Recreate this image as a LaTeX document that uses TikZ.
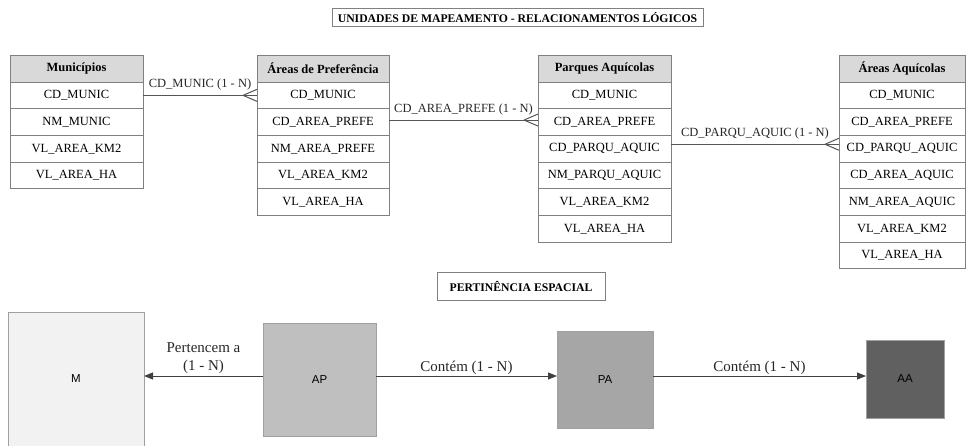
\documentclass[tikz,border=0pt]{standalone}
\usepackage{fontspec}
\setmainfont{Liberation Serif}
\newfontfamily\boxsans{Liberation Sans}
\usetikzlibrary{arrows.meta,calc}
\definecolor{tblline}{HTML}{808080}
\definecolor{hdrfill}{HTML}{D9D9D9}
\definecolor{connline}{HTML}{555555}
\definecolor{arrline}{HTML}{404040}
\definecolor{mfill}{HTML}{F2F2F2}
\definecolor{apfill}{HTML}{BFBFBF}
\definecolor{pafill}{HTML}{A6A6A6}
\definecolor{aafill}{HTML}{606060}
\definecolor{boxline}{HTML}{A0A0A0}
\newcommand\crowfoot[1]{\draw[conn] ($(#1)+(-14,0)$) -- ($(#1)+(0,-6)$) ($(#1)+(-14,0)$) -- ($(#1)+(0,6)$);}
\begin{document}
\begin{tikzpicture}[x=1pt,y=-1pt,
  cell/.style={draw=tblline, line width=1pt, fill=white, anchor=north west, inner sep=0pt, outer sep=0pt,
    minimum height=26.7pt, font=\fontsize{12.5}{14}\selectfont},
  hdr/.style={cell, fill=hdrfill, minimum height=27.3pt, font=\fontsize{12.5}{14}\selectfont\bfseries},
  titlebox/.style={draw=tblline, line width=1pt, inner sep=0pt, outer sep=0pt, font=\fontsize{11.7}{13}\selectfont\bfseries},
  conn/.style={draw=connline, line width=1pt},
  lbl/.style={anchor=base, yshift=8pt, inner sep=0pt, text=black!85, font=\fontsize{12.5}{14}\selectfont},
  bbox/.style={draw=boxline, line width=1pt, inner sep=0pt, outer sep=0pt, anchor=north west, font=\boxsans\fontsize{11.5}{13}\selectfont},
  arr/.style={draw=arrline, line width=1pt, -{Triangle[length=9pt,width=7pt]}},
  blbl/.style={anchor=base, yshift=5pt, inner sep=0pt, text=black!85, font=\fontsize{15}{18.5}\selectfont}
]
\useasboundingbox (0,0) rectangle (966,445);
\clip (0,0) rectangle (966,445);

% titles
\node[titlebox, minimum width=371pt, minimum height=17.5pt] (t1) at (517.5,17.5) {UNIDADES DE MAPEAMENTO - RELACIONAMENTOS LÓGICOS};
\node[titlebox, minimum width=168pt, minimum height=28pt] (t2) at (521,286) {PERTINÊNCIA ESPACIAL};

% Municipios
\node[hdr, minimum width=133pt] (m0) at (10,55) {Municípios};
\foreach \t [count=\i] in {CD\_MUNIC, NM\_MUNIC, VL\_AREA\_KM2, VL\_AREA\_HA}
  \node[cell, minimum width=133pt] (m\i) at (10,{82+(\i-1)*26.7}) {\t};

% Areas de Preferencia
\node[hdr, minimum width=132pt] (ap0) at (257,55) {Áreas de Preferência};
\foreach \t [count=\i] in {CD\_MUNIC, CD\_AREA\_PREFE, NM\_AREA\_PREFE, VL\_AREA\_KM2, VL\_AREA\_HA}
  \node[cell, minimum width=132pt] (ap\i) at (257,{82+(\i-1)*26.7}) {\t};

% Parques Aquicolas
\node[hdr, minimum width=133pt] (pa0) at (538,55) {Parques Aquícolas};
\foreach \t [count=\i] in {CD\_MUNIC, CD\_AREA\_PREFE, CD\_PARQU\_AQUIC, NM\_PARQU\_AQUIC, VL\_AREA\_KM2, VL\_AREA\_HA}
  \node[cell, minimum width=133pt] (pa\i) at (538,{82+(\i-1)*26.7}) {\t};

% Areas Aquicolas
\node[hdr, minimum width=126pt] (aa0) at (839,55) {Áreas Aquícolas};
\foreach \t [count=\i] in {CD\_MUNIC, CD\_AREA\_PREFE, CD\_PARQU\_AQUIC, CD\_AREA\_AQUIC, NM\_AREA\_AQUIC, VL\_AREA\_KM2, VL\_AREA\_HA}
  \node[cell, minimum width=126pt] (aa\i) at (839,{82+(\i-1)*26.7}) {\t};

% relationships
\draw[conn] (m1.east) -- node[lbl] {CD\_MUNIC (1 - N)} (ap1.west);
\crowfoot{ap1.west}
\coordinate (c2a) at ([yshift=2pt]ap2.east);
\coordinate (c2b) at (c2a -| pa2.west);
\draw[conn] (c2a) -- node[lbl] {CD\_AREA\_PREFE (1 - N)} (c2b);
\crowfoot{c2b}
\coordinate (c3a) at ([yshift=4.5pt]pa3.east);
\coordinate (c3b) at (c3a -| aa3.west);
\draw[conn] (c3a) -- node[lbl] {CD\_PARQU\_AQUIC (1 - N)} (c3b);
\crowfoot{c3b}

% spatial boxes
\node[bbox, fill=mfill, minimum width=136pt, minimum height=134pt] (m) at (8,312) {M};
\node[bbox, fill=apfill, minimum width=113pt, minimum height=113pt] (ap) at (263,323) {AP};
\node[bbox, fill=pafill, minimum width=96pt, minimum height=97pt] (pa) at (557,331) {PA};
\node[bbox, fill=aafill, minimum width=78pt, minimum height=78pt] (aa) at (866,340) {AA};

\coordinate (apL) at ([yshift=3.5pt]ap.west);
\coordinate (mR) at (apL -| m.east);
\draw[arr] (apL) -- node[anchor=south, inner sep=0pt, yshift=1.7pt, align=center, text=black!85, font=\fontsize{15}{18.5}\selectfont] {Pertencem a\\(1 - N)} (mR);
\coordinate (apR) at ([yshift=3.5pt]ap.east);
\coordinate (paL) at (apR -| pa.west);
\draw[arr] (apR) -- node[blbl] {Contém (1 - N)} (paL);
\coordinate (paR) at ([yshift=3.5pt]pa.east);
\coordinate (aaL) at (paR -| aa.west);
\draw[arr] (paR) -- node[blbl] {Contém (1 - N)} (aaL);
\end{tikzpicture}
\end{document}
